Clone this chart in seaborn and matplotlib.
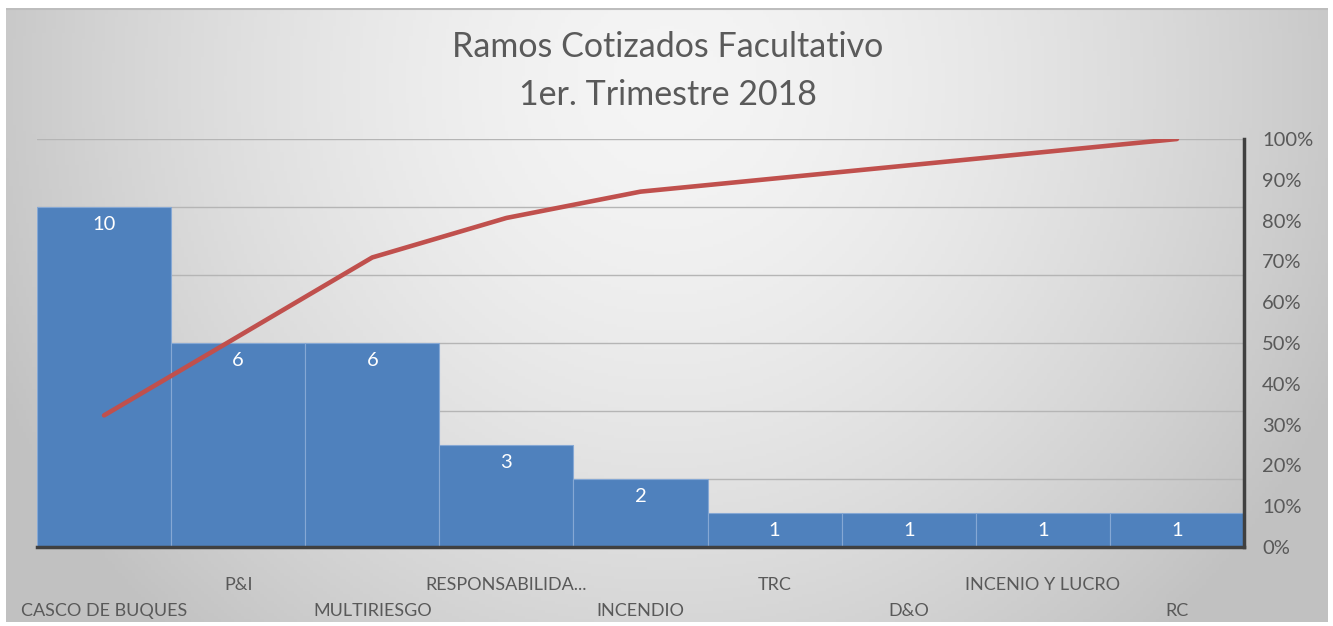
import matplotlib
matplotlib.use("Agg")
import matplotlib.pyplot as plt
import numpy as np
import pandas as pd
import seaborn as sns

# datos del grafico
ramos = ["CASCO DE BUQUES", "P&I", "MULTIRIESGO", "RESPONSABILIDA...", "INCENDIO",
         "TRC", "D&O", "INCENIO Y LUCRO", "RC"]
cotizaciones = [10, 6, 6, 3, 2, 1, 1, 1, 1]
titulo = ["Ramos Cotizados Facultativo", "1er. Trimestre 2018"]

sns.set_style("white")
plt.rcParams['font.family'] = ['Lato', 'DejaVu Sans']

df = pd.DataFrame({'Ramo': ramos, 'Cotizaciones': cotizaciones})
df['Acumulado'] = df['Cotizaciones'].cumsum() / df['Cotizaciones'].sum()
df['pos'] = np.arange(len(df))

gris = '#595959'
azul = '#4f81bd'
rojo = '#c0504d'

fig = plt.figure(figsize=(13.33, 6.26), dpi=100)
fig.patch.set_facecolor('white')

# fondo con degradado radial
bg = fig.add_axes([6 / 1333, 4 / 626, 1322 / 1333, 614 / 626], zorder=-5)
xx, yy = np.meshgrid(np.linspace(0, 1, 400), np.linspace(0, 1, 200))
r = np.sqrt(((xx - 0.5) / 0.5) ** 2 + ((yy - 0.12) / 1.1) ** 2)
v = np.clip(0.96 - 0.17 * r ** 1.6, 0.76, 1)
bg.imshow(np.dstack([v, v, v]), aspect='auto', extent=[0, 1, 1, 0])
bg.plot([0, 1], [0.002, 0.002], color='#bdbdbd', lw=1.5)
bg.set_xlim(0, 1)
bg.set_ylim(1, 0)
bg.axis('off')

ax = fig.add_axes([37 / 1333, 79 / 626, 1207 / 1333, 408 / 626])
ax.set_facecolor('none')

sns.barplot(x='Ramo', y='Cotizaciones', data=df, color=azul, width=1.0,
            edgecolor='#86a8d4', linewidth=0.8, saturation=1, ax=ax, zorder=2)
ax.bar_label(ax.containers[0], padding=-19, color='white', fontsize=14.5)

ax.set_ylim(0, 12)
ax.set_xlim(-0.5, len(df) - 0.5)
ax.set_yticks(np.arange(0, 13, 2))
ax.yaxis.grid(True, color='#b5b5b5', lw=1)
ax.set_axisbelow(True)
ax.set_xlabel('')
ax.set_ylabel('')
for s in ['left', 'top', 'right']:
    ax.spines[s].set_visible(False)
ax.spines['bottom'].set_color('#404040')
ax.spines['bottom'].set_linewidth(2.5)
ax.spines['bottom'].set_zorder(5)

ax2 = ax.twinx()
sns.lineplot(x='pos', y='Acumulado', data=df, color=rojo, lw=3.3, ax=ax2)
ax2.set_ylim(0, 1)
ax2.set_yticks(np.arange(0, 1.01, 0.1))
ax2.set_yticklabels([f"{int(round(p * 100))}%" for p in np.arange(0, 1.01, 0.1)])
ax2.tick_params(axis='y', right=True, length=0, pad=13, labelsize=14.5, labelcolor=gris)
ax2.set_ylabel('')
ax2.set_xlabel('')
ax2.grid(False)
for s in ['left', 'top', 'bottom']:
    ax2.spines[s].set_visible(False)
ax2.spines['right'].set_color('#404040')
ax2.spines['right'].set_linewidth(2.5)

# twinx vuelve a activar los ticks de la izquierda
ax.tick_params(axis='y', left=False, right=False, labelleft=False, labelright=False)
ax.tick_params(axis='x', bottom=False, labelsize=13, labelcolor=gris)

# etiquetas escalonadas como en excel
for i, t in enumerate(ax.xaxis.get_major_ticks()):
    t.set_pad(37 if i % 2 == 0 else 18)

# titulo en dos lineas
fig.text(0.501, 1 - 47 / 626, titulo[0], ha='center', va='center', fontsize=24.5,
         color='#5a5a5a')
fig.text(0.501, 1 - 95 / 626, titulo[1], ha='center', va='center', fontsize=24.5,
         color='#5a5a5a')

plt.savefig('out.png', dpi=100)
plt.close()
